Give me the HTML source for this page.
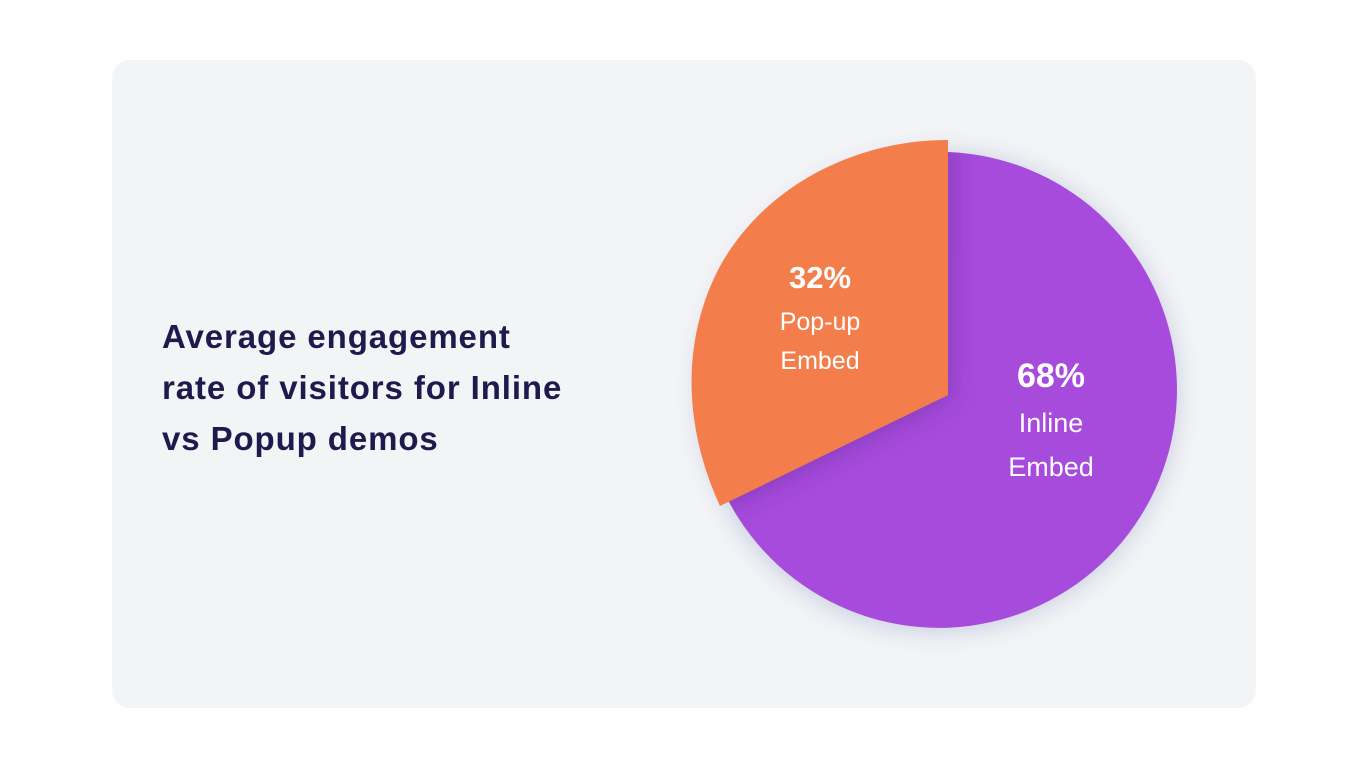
<!DOCTYPE html>
<html><head><meta charset="utf-8"><style>
html,body{margin:0;padding:0;background:#fff;width:1368px;height:768px;overflow:hidden;font-family:"Liberation Sans",sans-serif}
.card{position:absolute;left:112px;top:60px;width:1144px;height:648px;background:#f3f4f6;border-radius:18px}
.title{position:absolute;left:162px;top:311px;font-size:33px;font-weight:bold;color:#1f1a4e;line-height:51px;letter-spacing:0.9px}
svg{position:absolute;left:0;top:0}
</style></head><body>
<div class="card"></div>
<div class="title">Average engagement<br>rate of visitors for Inline<br>vs Popup demos</div>
<svg width="1368" height="768" viewBox="0 0 1368 768">
<defs>
<filter id="sh" x="-30%" y="-30%" width="160%" height="160%"><feGaussianBlur stdDeviation="12"/></filter>
<filter id="os" x="-30%" y="-30%" width="160%" height="160%"><feGaussianBlur stdDeviation="14"/></filter>
<clipPath id="pc"><path d="M948,395 L948,152 A238,238 0 1 1 728,500 Z"/></clipPath>
</defs>
<circle cx="938" cy="392" r="240" fill="#b8c0d8" opacity="0.7" filter="url(#sh)"/>
<path d="M948,395 L948,152 A238,238 0 1 1 728,500 Z" fill="#a74bdd"/>
<g clip-path="url(#pc)"><path d="M948,395 L948,140 A245,245 0 0 0 720,506 Z" fill="#5a2a8a" opacity="0.55" filter="url(#os)"/></g>
<path d="M948,395 L948,140 C 850,140 760,190 718,270 C 680,345 685,430 720,506 Z" fill="#f37e4b"/>
<g fill="#fff" text-anchor="middle">
<text x="820" y="288" font-size="31" font-weight="bold">32%</text>
<text x="820" y="330" font-size="25">Pop-up</text>
<text x="820" y="369" font-size="25">Embed</text>
<text x="1051" y="387" font-size="34" font-weight="bold">68%</text>
<text x="1051" y="432" font-size="27">Inline</text>
<text x="1051" y="476" font-size="27">Embed</text>
</g>
</svg>
</body></html>
